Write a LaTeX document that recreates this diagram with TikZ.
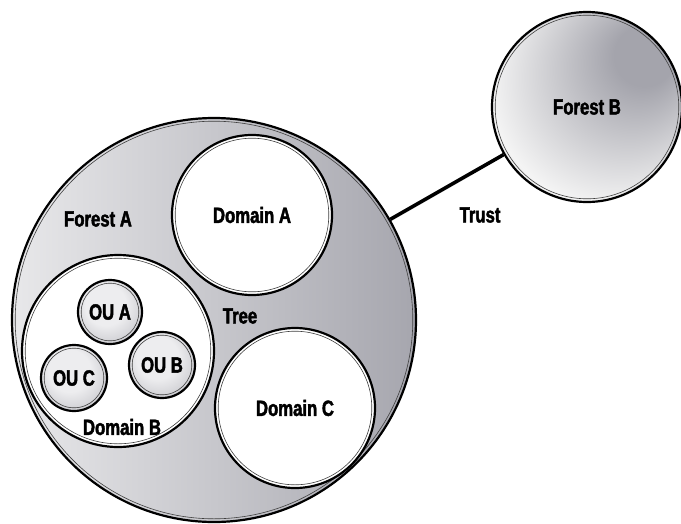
\documentclass[tikz,border=0pt]{standalone}
\usepackage{fontspec}
\setmainfont{Liberation Sans}[FakeStretch=0.76,FakeBold=2]
\definecolor{fAl}{HTML}{E8E8EA}
\definecolor{fAd}{HTML}{A6A6AE}
\definecolor{fBd}{HTML}{A4A4AC}
\definecolor{fBl}{HTML}{F4F4F4}
\definecolor{fBm}{HTML}{B2B2B8}
\definecolor{ouL}{HTML}{EDEDEF}
\definecolor{ouD}{HTML}{9A9AA2}
\pgfdeclareradialshading{fBshade}{\pgfpoint{18bp}{16bp}}{color(0bp)=(fBd); color(8bp)=(fBd); color(32bp)=(fBl); color(43bp)=(fBm); color(50bp)=(fBm)}
\pgfdeclareradialshading{ouShade}{\pgfpoint{-5bp}{8bp}}{color(0bp)=(ouL); color(16bp)=(ouL); color(50bp)=(ouD)}
\tikzset{
  bub/.style={circle, draw=black, line width=2.2pt, inner sep=0pt,
    minimum size={2*#1pt},
    path picture={\draw[line width=0.6pt, black!75]
      (path picture bounding box.center) circle[radius={#1-3.2}];}},
  dom/.style={fill=white},
  lab/.style={font=\fontsize{22}{26}\selectfont\bfseries, inner sep=0pt},
  conn/.style={line width=3.6pt}
}
\begin{document}
\begin{tikzpicture}[x=1pt,y=-1pt]
\useasboundingbox (0,0) rectangle (681,523);
% forests
\node[bub=202, left color=fAl, right color=fAd] (forestA) at (214,320) {};
\node[bub=95, shading=fBshade, lab] (forestB) at (587,107) {Forest B};
\draw[conn] (forestA) -- (forestB);
% domains
\node[bub=80, dom, lab] (domA) at (252,215) {Domain A};
\node[bub=96, dom] (domB) at (118,351) {};
\node[bub=80, dom, lab] (domC) at (295,408) {Domain C};
% OUs
\node[bub=32, shading=ouShade, lab] (ouA) at (110,312) {OU A};
\node[bub=33, shading=ouShade, lab] (ouB) at (162,365) {OU B};
\node[bub=33, shading=ouShade, lab] (ouC) at (74,378) {OU C};
% labels
\node[lab] (lForestA) at (98,219) {Forest A};
\node[lab] (lDomB) at (122,427) {Domain B};
\node[lab] (lTree) at (240,316) {Tree};
\node[lab] (lTrust) at (480,215) {Trust};
\end{tikzpicture}
\end{document}
